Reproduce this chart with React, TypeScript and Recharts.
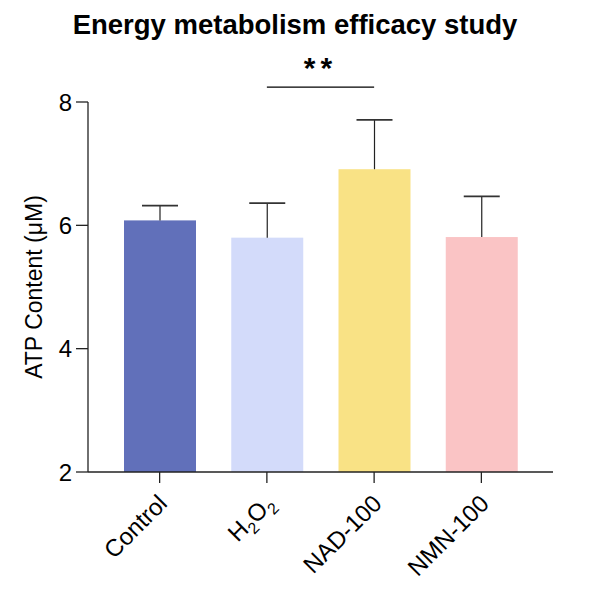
import React from 'react';
import { BarChart, Bar, XAxis, YAxis, Cell, ReferenceLine } from 'recharts';

const categories = ['Control', 'H2O2', 'NAD-100', 'NMN-100'];
const means = [6.08, 5.8, 6.91, 5.81];
const errors = [0.24, 0.56, 0.8, 0.66];
const colors = ['#6170BA', '#D3DBFA', '#F9E285', '#FAC4C5'];
const yTicks = [2, 4, 6, 8];
const yDomain: [number, number] = [2, 8];
const sigFrom = 'H2O2';
const sigTo = 'NAD-100';
const sigY = 8.24;
const sigText = '**';

const data = categories.map((c, i) => ({ name: c, value: means[i], err: errors[i] }));

const FONT = '"Liberation Sans", Arial, Helvetica, sans-serif';

const BarWithError = (props: any) => {
  const { x, y, width, height, fill, payload } = props;
  const pxPerUnit = height / (payload.value - yDomain[0]);
  const errTop = y - payload.err * pxPerUnit;
  const cx = x + width / 2;
  const capHalf = width / 4;
  return (
    <g>
      <rect x={x} y={y} width={width} height={height} fill={fill} />
      <line x1={cx} x2={cx} y1={y} y2={errTop} stroke="#222" strokeWidth={1.2} />
      <line x1={cx - capHalf} x2={cx + capHalf} y1={errTop} y2={errTop} stroke="#333" strokeWidth={1.6} />
    </g>
  );
};

const XTick = (props: any) => {
  const { x, y, payload } = props;
  const v: string = payload.value;
  let content: any = v;
  if (v === 'H2O2') {
    content = [
      <tspan key="a">H</tspan>,
      <tspan key="b" dy={6} fontSize={16}>2</tspan>,
      <tspan key="c" dy={-6}>O</tspan>,
      <tspan key="d" dy={6} fontSize={16}>2</tspan>,
    ];
  }
  return (
    <g transform={`translate(${x + 9},${y + 20})`}>
      <text x={0} y={0} textAnchor="end" transform="rotate(-45)" fontSize={24} fill="#000" fontFamily={FONT}>
        {content}
      </text>
    </g>
  );
};

const SigLabel = (props: any) => {
  const vb = props.viewBox || {};
  const cx = (vb.x ?? 0) + (vb.width ?? 0) / 2;
  return (
    <text x={cx} y={(vb.y ?? 0) - 9} textAnchor="middle" fontSize={30} fontWeight="bold" fill="#000" fontFamily={FONT} letterSpacing={5}>
      {sigText}
    </text>
  );
};

const YLabel = (props: any) => {
  const vb = props.viewBox || {};
  const cx = (vb.x ?? 0) + 34;
  const cy = (vb.y ?? 0) + (vb.height ?? 0) / 2;
  return (
    <text x={cx} y={cy} transform={`rotate(-90, ${cx}, ${cy})`} textAnchor="middle" dominantBaseline="central" fontSize={23} fill="#000" fontFamily={FONT}>
      ATP Content (μM)
    </text>
  );
};

export default function App() {
  return (
    <div style={{ position: 'absolute', left: 0, top: 0, width: 597, height: 598, background: '#fff', fontFamily: FONT }}>
      <div
        style={{
          position: 'absolute',
          top: 11,
          left: 0,
          width: 590,
          textAlign: 'center',
          fontSize: 27.5,
          lineHeight: '27px',
          fontWeight: 'bold',
          color: '#000',
          fontFamily: FONT,
        }}
      >
        Energy metabolism efficacy study
      </div>
      <BarChart
        width={597}
        height={598}
        data={data}
        margin={{ top: 102, right: 44, bottom: 0, left: 0 }}
        style={{ position: 'absolute', left: 0, top: 0 }}
      >
        <XAxis
          dataKey="name"
          interval={0}
          height={126}
          padding={{ left: 18, right: 18 }}
          tickSize={11}
          tick={<XTick />}
          axisLine={{ stroke: '#222', strokeWidth: 1.3 }}
          tickLine={{ stroke: '#222', strokeWidth: 1.3 }}
        />
        <YAxis
          domain={yDomain}
          ticks={yTicks}
          allowDataOverflow
          width={88}
          tickSize={12}
          tickMargin={4}
          tick={{ fontSize: 24, fill: '#000', fontFamily: FONT }}
          axisLine={{ stroke: '#222', strokeWidth: 1.3 }}
          tickLine={{ stroke: '#222', strokeWidth: 1.3 }}
          label={<YLabel />}
        />
        <Bar dataKey="value" barSize={72} isAnimationActive={false} shape={<BarWithError />}>
          {data.map((d, i) => (
            <Cell key={d.name} fill={colors[i]} />
          ))}
        </Bar>
        <ReferenceLine
          segment={[
            { x: sigFrom, y: sigY },
            { x: sigTo, y: sigY },
          ]}
          ifOverflow="visible"
          stroke="#000"
          strokeWidth={1.3}
          label={<SigLabel />}
        />
      </BarChart>
    </div>
  );
}
